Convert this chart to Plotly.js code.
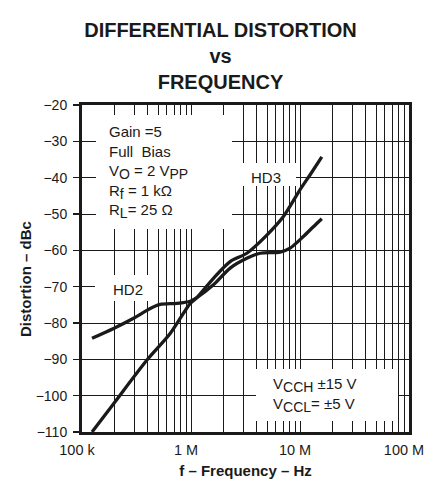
<!DOCTYPE html>
<html>
<head>
<meta charset="utf-8">
<script src="https://cdn.plot.ly/plotly-3.0.1.min.js"></script>
<style>html,body{margin:0;padding:0;background:#fff;}#chart{width:441px;height:487px;}</style>
</head>
<body>
<div id="chart"></div>
<script>
// Frequency (Hz) and distortion (dBc)
const hd3Freq = [123600, 195000, 394500, 644000, 984000, 1132000, 1607000, 2286000, 3251000, 4966000, 7047000, 10020000, 12390000, 15850000];
const hd3Dbc  = [-110, -102.2, -90.2, -82.9, -74.6, -73.0, -67.7, -63.1, -60.8, -55.8, -50.7, -43.3, -39.2, -34.3];

const hd2Freq = [123600, 195000, 297200, 422700, 522400, 743000, 984000, 1132000, 1607000, 2286000, 3251000, 4305000, 6577000, 8110000, 10740000, 13270000, 15850000];
const hd2Dbc  = [-84.2, -81.5, -78.7, -76.0, -74.9, -74.6, -74.0, -73.0, -69.5, -64.9, -62.2, -60.8, -60.5, -59.4, -56.2, -53.5, -51.3];

const xTickVals = [1e5, 1e6, 1e7, 1e8];
const xTickText = ['100 k', '1 M', '10 M', '100 M'];
const xMinorVals = [2e5,3e5,4e5,5e5,6e5,7e5,8e5,9e5,2e6,3e6,4e6,5e6,6e6,7e6,8e6,9e6,2e7,3e7,4e7,5e7,6e7,7e7,8e7,9e7];
const yTickVals = [-20,-30,-40,-50,-60,-70,-80,-90,-100,-110];
const yTickText = ['\u221220','\u221230','\u221240','\u221250','\u221260','\u221270','\u221280','\u221290','\u2212100','\u2212110'];

const SUB = s => '<sub><span style="font-size:14px">' + s + '</span></sub>';
const titleText = 'DIFFERENTIAL DISTORTION<br>vs<br>FREQUENCY';
const xTitle = 'f \u2013 Frequency \u2013 Hz';
const yTitle = 'Distortion \u2013 dBc';
const condText = 'Gain =5<br>Full  Bias<br>V' + SUB('O') + ' = 2 V' + SUB('PP') + '<br>R' + SUB('f') + ' = 1 k\u03A9<br>R' + SUB('L') + '= 25 \u03A9';
const supplyText = 'V' + SUB('CCH') + ' \u00B115 V<br>V' + SUB('CCL') + '= \u00B15 V';
const hd3Label = 'HD3';
const hd2Label = 'HD2';

const FONT = 'Liberation Sans, Arial, Helvetica, sans-serif';
const INK = '#1a1a1a';

// pixel -> paper helpers (plot area 82..409 x, 105..432 y)
const L = 82, T = 105, W = 327, H = 327;
const px = v => (v - L) / W;
const py = v => (T + H - v) / H;

function whiteBox(x0, x1, y0, y1) {
  return {type: 'rect', xref: 'paper', yref: 'paper', x0: px(x0), x1: px(x1), y0: py(y1), y1: py(y0),
          fillcolor: '#ffffff', line: {width: 0}, layer: 'above'};
}

const traces = [
  {x: hd3Freq, y: hd3Dbc, type: 'scatter', mode: 'lines', name: 'HD3',
   line: {color: INK, width: 3.3, shape: 'spline', smoothing: 0.8}, showlegend: false, hoverinfo: 'skip'},
  {x: hd2Freq, y: hd2Dbc, type: 'scatter', mode: 'lines', name: 'HD2',
   line: {color: INK, width: 3.3, shape: 'spline', smoothing: 0.8}, showlegend: false, hoverinfo: 'skip'}
];

const layout = {
  width: 441, height: 487,
  margin: {l: L, r: 441 - L - W, t: T, b: 487 - T - H, pad: 0},
  paper_bgcolor: '#ffffff', plot_bgcolor: '#ffffff',
  font: {family: FONT, color: INK, size: 14},
  title: {text: titleText, x: 0.5, xref: 'container', xanchor: 'center',
          y: 1 - 37 / 487, yref: 'container', yanchor: 'top',
          font: {family: FONT, size: 20, weight: 'bold', color: INK}},
  xaxis: {type: 'log', range: [5, 8], tickvals: xTickVals, ticktext: xTickText,
          showgrid: true, gridcolor: INK, gridwidth: 1,
          minor: {tickvals: xMinorVals, showgrid: true, gridcolor: INK, gridwidth: 1, ticks: ''},
          showline: true, mirror: true, linecolor: INK, linewidth: 3,
          ticks: '', zeroline: false, ticklabelshift: -5, ticklabelstandoff: 3,
          tickfont: {family: FONT, size: 14.5, color: INK},
          title: {text: xTitle, standoff: 9, font: {family: FONT, size: 15, weight: 'bold', color: INK}}},
  yaxis: {range: [-110, -20], tickvals: yTickVals, ticktext: yTickText,
          showgrid: true, gridcolor: INK, gridwidth: 1,
          showline: true, mirror: true, linecolor: INK, linewidth: 3,
          ticks: 'outside', ticklen: 6, tickwidth: 1.5, tickcolor: INK, zeroline: false,
          ticklabelstandoff: 3,
          tickfont: {family: FONT, size: 14, color: INK}},
  shapes: [
    whiteBox(96, 232, 115, 229),
    whiteBox(232, 296, 163, 186),
    whiteBox(95, 158, 275, 301),
    whiteBox(256, 398, 369, 421)
  ],
  annotations: [
    {text: condText, xref: 'paper', yref: 'paper', x: px(107), y: py(121), xanchor: 'left', yanchor: 'top',
     align: 'left', showarrow: false, font: {family: FONT, size: 15, color: INK}},
    {text: supplyText, xref: 'paper', yref: 'paper', x: px(271), y: py(373), xanchor: 'left', yanchor: 'top',
     align: 'left', showarrow: false, font: {family: FONT, size: 15, color: INK}},
    {text: hd3Label, xref: 'paper', yref: 'paper', x: px(266), y: py(177), xanchor: 'center', yanchor: 'middle',
     showarrow: false, font: {family: FONT, size: 15, color: INK}},
    {text: hd2Label, xref: 'paper', yref: 'paper', x: px(128), y: py(289), xanchor: 'center', yanchor: 'middle',
     showarrow: false, font: {family: FONT, size: 15, color: INK}},
    {text: yTitle, xref: 'paper', yref: 'paper', x: px(25), y: py(279), xanchor: 'center', yanchor: 'middle',
     textangle: -90, showarrow: false, font: {family: FONT, size: 15, weight: 'bold', color: INK}}
  ]
};

Plotly.newPlot('chart', traces, layout, {staticPlot: true, displayModeBar: false});
</script>
</body>
</html>
